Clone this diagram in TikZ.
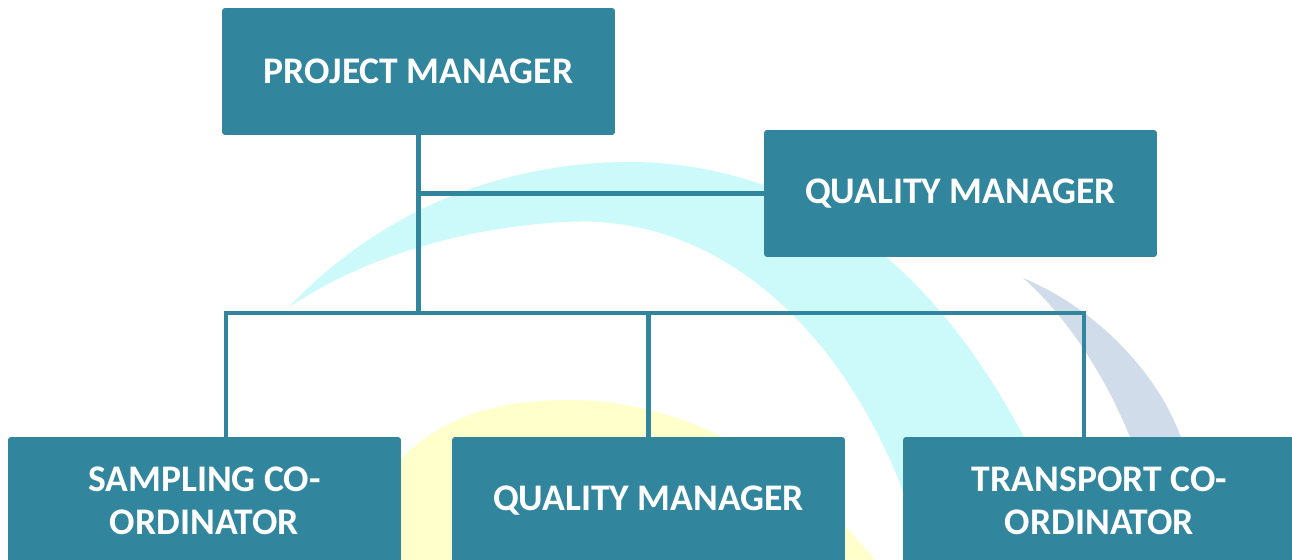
\documentclass[tikz,border=0pt]{standalone}
\usepackage{fontspec}
\setmainfont{Carlito}
\definecolor{boxteal}{HTML}{31859C}
\definecolor{wmcyan}{HTML}{CCFAFA}
\definecolor{wmyellow}{HTML}{FFFFCC}
\definecolor{wmblue}{HTML}{D0DCEA}
\tikzset{
	rolebox/.style={fill=boxteal, text=white, rounded corners=1.7pt,
		minimum width=7.86cm, minimum height=2.54cm, inner sep=0pt, align=center,
		font=\bfseries\fontsize{21.4}{24.4}\selectfont},
	link/.style={draw=boxteal, line width=2.8pt}
}
\begin{document}
\begin{tikzpicture}[x=0.02cm, y=-0.02cm]
	\useasboundingbox (0,0) rectangle (1292,560);
	\clip (0,0) rectangle (1292,560);
	% faint watermark behind the chart
	\fill[wmcyan] (288,308) .. controls (390,200) and (520,160) .. (640,162)
		.. controls (860,170) and (990,330) .. (1080,560) -- (925,560)
		.. controls (870,350) and (730,212) .. (565,222)
		.. controls (450,228) and (350,265) .. (288,308) -- cycle;
	\fill[wmyellow] (395,560) -- (395,465) .. controls (440,415) and (500,400) .. (570,400)
		.. controls (700,400) and (810,480) .. (875,560) -- cycle;
	\fill[wmblue] (1023,278) .. controls (1060,310) and (1105,370) .. (1135,450)
		-- (1185,450) .. controls (1165,380) and (1100,310) .. (1023,278) -- cycle;
	% boxes
	\node[rolebox] (pm) at (418.5,71.5) {PROJECT MANAGER};
	\node[rolebox] (qmtop) at (960.5,193.5) {QUALITY MANAGER};
	\node[rolebox] (sco) at (204.5,500.5) {SAMPLING CO-\\ORDINATOR};
	\node[rolebox] (qmbot) at (648.5,500.5) {QUALITY MANAGER};
	\node[rolebox] (tco) at (1099.5,500.5) {TRANSPORT CO-\\ORDINATOR};
	% lines
	\coordinate (busL) at (226,313);
	\coordinate (busR) at (1084,313);
	\draw[link] (qmtop.west) -- (pm.south |- qmtop.west);
	\draw[link] (pm.south) -- (pm.south |- busL);
	\draw[link] (busL |- sco.north) -- (busL) -- (busR) -- (busR |- tco.north);
	\draw[link] (qmbot.north) -- (qmbot.north |- busL);
\end{tikzpicture}
\end{document}
